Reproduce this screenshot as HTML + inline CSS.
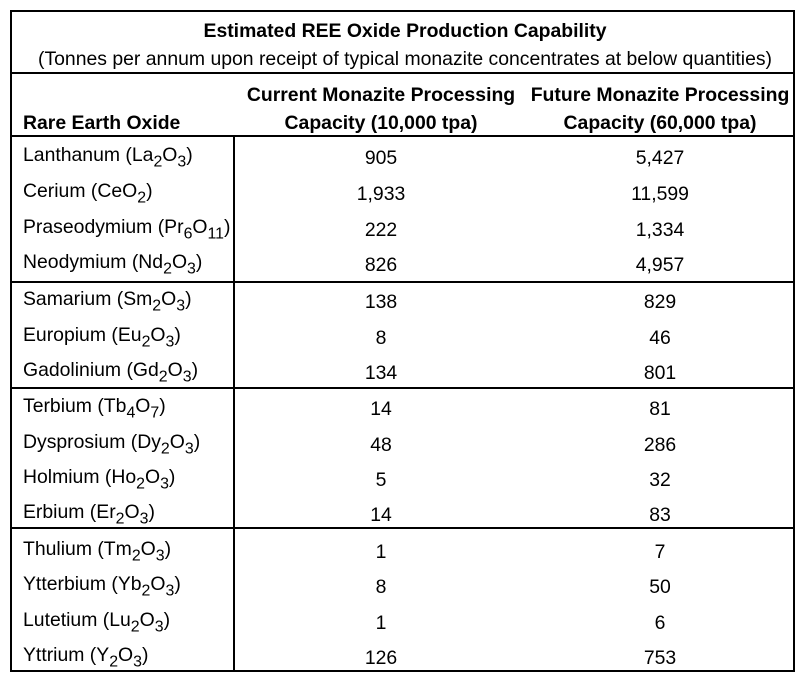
<!DOCTYPE html>
<html><head><meta charset="utf-8">
<style>
body{margin:0;width:808px;height:683px;background:#fff;font-family:"Liberation Sans",Arial,sans-serif;color:#000;position:relative;overflow:hidden}
.ab{position:absolute;white-space:nowrap}
.hl{position:absolute;height:2px;background:#000}
.vl{position:absolute;width:2px;background:#000}
.t{font-size:19.4px;line-height:22px}
.b{font-weight:bold}
.c{transform:translateX(-50%)}
sub{font-size:0.82em;vertical-align:-0.35em;line-height:0}
</style></head><body>
<div class="hl" style="left:10px;top:10px;width:785px"></div>
<div class="hl" style="left:10px;top:670px;width:785px"></div>
<div class="vl" style="left:10px;top:10px;height:662px"></div>
<div class="vl" style="left:793px;top:10px;height:662px"></div>
<div class="hl" style="left:10px;top:72px;width:785px"></div>
<div class="hl" style="left:10px;top:135px;width:785px"></div>
<div class="vl" style="left:233px;top:135px;height:537px"></div>
<div class="hl" style="left:10px;top:281px;width:785px"></div>
<div class="hl" style="left:10px;top:387px;width:785px"></div>
<div class="hl" style="left:10px;top:527px;width:785px"></div>

<div class="ab t b c" style="left:405px;top:20px">Estimated REE Oxide Production Capability</div>
<div class="ab t c" style="left:405px;top:48px">(Tonnes per annum upon receipt of typical monazite concentrates at below quantities)</div>
<div class="ab t b" style="left:23px;top:112px">Rare Earth Oxide</div>
<div class="ab t b c" style="left:381px;top:84px">Current Monazite Processing</div>
<div class="ab t b c" style="left:381px;top:112px">Capacity (10,000 tpa)</div>
<div class="ab t b c" style="left:660px;top:84px">Future Monazite Processing</div>
<div class="ab t b c" style="left:660px;top:112px">Capacity (60,000 tpa)</div>

<div id="rows"></div>
<script>
const names=['Lanthanum (La<sub>2</sub>O<sub>3</sub>)','Cerium (CeO<sub>2</sub>)','Praseodymium (Pr<sub>6</sub>O<sub>11</sub>)','Neodymium (Nd<sub>2</sub>O<sub>3</sub>)','Samarium (Sm<sub>2</sub>O<sub>3</sub>)','Europium (Eu<sub>2</sub>O<sub>3</sub>)','Gadolinium (Gd<sub>2</sub>O<sub>3</sub>)','Terbium (Tb<sub>4</sub>O<sub>7</sub>)','Dysprosium (Dy<sub>2</sub>O<sub>3</sub>)','Holmium (Ho<sub>2</sub>O<sub>3</sub>)','Erbium (Er<sub>2</sub>O<sub>3</sub>)','Thulium (Tm<sub>2</sub>O<sub>3</sub>)','Ytterbium (Yb<sub>2</sub>O<sub>3</sub>)','Lutetium (Lu<sub>2</sub>O<sub>3</sub>)','Yttrium (Y<sub>2</sub>O<sub>3</sub>)'];
const current=['905','1,933','222','826','138','8','134','14','48','5','14','1','8','1','126'];
const future=['5,427','11,599','1,334','4,957','829','46','801','81','286','32','83','7','50','6','753'];
const rowTops=[145,181,217,252,289,325,360,396,432,467,502,539,574,610,645];
const root=document.getElementById('rows');
names.forEach((n,i)=>{
  const y=rowTops[i];
  const a=document.createElement('div');a.className='ab t';a.style.left='23px';a.style.top=(y-1)+'px';a.innerHTML=n;
  
  
  root.appendChild(a);
  const b=document.createElement('div');b.className='ab t c';b.style.left='381px';b.style.top=(y+2)+'px';b.textContent=current[i];
  
  
  root.appendChild(b);
  const c=document.createElement('div');c.className='ab t c';c.style.left='660px';c.style.top=(y+2)+'px';c.textContent=future[i];
  
  
  root.appendChild(c);
});
</script>
</body></html>
